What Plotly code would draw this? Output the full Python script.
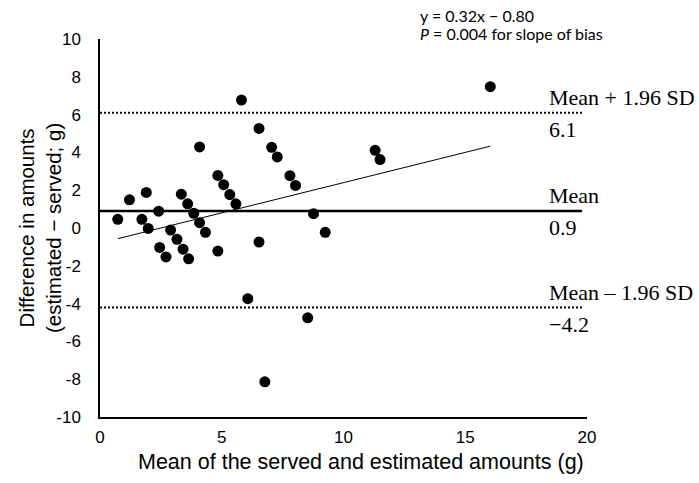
import plotly.graph_objects as go

# Data
mean_amount = [0.73, 1.21, 1.90, 1.72, 1.98, 2.41, 2.45, 2.71, 2.90, 3.16, 3.41, 3.64,
               3.34, 3.60, 3.85, 4.09, 4.33, 4.09, 4.84, 5.08, 5.33, 5.58, 4.84, 6.53,
               5.81, 6.53, 7.05, 7.28, 7.80, 8.03, 8.77, 9.25, 6.07, 8.53, 11.30, 11.50,
               6.77, 16.03]
difference = [0.46, 1.49, 1.88, 0.46, -0.02, 0.89, -1.03, -1.53, -0.11, -0.60, -1.12, -1.63,
              1.79, 1.28, 0.78, 0.28, -0.23, 4.29, 2.78, 2.29, 1.77, 1.28, -1.22, -0.74,
              6.77, 5.27, 4.27, 3.76, 2.77, 2.25, 0.76, -0.23, -3.74, -4.75, 4.11, 3.62,
              -8.14, 7.48]

mean_bias = 0.9
upper_loa = 6.1
lower_loa = -4.2
slope = 0.32
intercept = -0.80
p_value = "0.004"

x_ticks = [0, 5, 10, 15, 20]
y_ticks = [10, 8, 6, 4, 2, 0, -2, -4, -6, -8, -10]
y_tick_text = ["10", "8", "6", "4", "2", "0", "-2", "-4", "-6", "-8", "-10"]

line_x = [0, 19.8]
fit_x = [min(mean_amount), max(mean_amount)]
fit_y = [slope * v + intercept for v in fit_x]

fig = go.Figure()
fig.add_trace(go.Scatter(x=line_x, y=[upper_loa] * 2, mode="lines",
                         line=dict(color="black", width=2, dash="2px,2px"), hoverinfo="skip"))
fig.add_trace(go.Scatter(x=line_x, y=[lower_loa] * 2, mode="lines",
                         line=dict(color="black", width=2, dash="2px,2px"), hoverinfo="skip"))
fig.add_trace(go.Scatter(x=line_x, y=[mean_bias] * 2, mode="lines",
                         line=dict(color="black", width=2.5), hoverinfo="skip"))
fig.add_trace(go.Scatter(x=fit_x, y=fit_y, mode="lines",
                         line=dict(color="black", width=1), hoverinfo="skip"))
fig.add_trace(go.Scatter(x=mean_amount, y=difference, mode="markers",
                         marker=dict(color="black", size=11)))

tfont = dict(family="Liberation Serif, Times New Roman, serif", size=22, color="black")
ann = []
lab_x = 18.35
for label, val, vtext in [("Mean + 1.96 SD", upper_loa, f"{upper_loa:.1f}"),
                          ("Mean", mean_bias, f"{mean_bias:.1f}"),
                          ("Mean \u2013 1.96 SD", lower_loa, f"\u2212{abs(lower_loa):.1f}")]:
    ann.append(dict(x=lab_x, y=val, xref="x", yref="y", text=label, showarrow=False,
                    xanchor="left", yanchor="middle", yshift=15, font=tfont))
    ann.append(dict(x=lab_x, y=val, xref="x", yref="y", text=vtext, showarrow=False,
                    xanchor="left", yanchor="middle", yshift=-17, font=tfont))

cfont = dict(family="Lato, Carlito, Calibri, sans-serif", size=16, color="black")
ann.append(dict(x=(418 - 100) / 487, y=(417 - 15) / 378, xref="paper", yref="paper",
                text=f"y = {slope:.2f}x \u2212 {abs(intercept):.2f}", showarrow=False,
                xanchor="left", yanchor="middle", font=cfont))
ann.append(dict(x=(418 - 100) / 487, y=(417 - 34) / 378, xref="paper", yref="paper",
                text=f"<i>P</i> = {p_value} for slope of bias", showarrow=False,
                xanchor="left", yanchor="middle", font=cfont))

afont = dict(family="Liberation Sans, Arial, sans-serif", size=21.5, color="black")
ann.append(dict(x=(361 - 100) / 487, y=(417 - 462) / 378, xref="paper", yref="paper",
                text="Mean of the served and estimated amounts (g)", showarrow=False,
                xanchor="center", yanchor="middle", font=afont))
ann.append(dict(x=(40 - 100) / 487, y=0.5, xref="paper", yref="paper",
                text="Difference in amounts<br>(estimated \u2212 served; g)", showarrow=False,
                xanchor="center", yanchor="middle", textangle=-90,
                font=dict(family="Liberation Sans, Arial, sans-serif", size=20.5, color="black")))

fig.update_layout(
    width=699, height=483,
    margin=dict(l=100, r=112, t=39, b=66),
    plot_bgcolor="white", paper_bgcolor="white",
    showlegend=False,
    annotations=ann,
    font=dict(family="Liberation Sans, Arial, sans-serif", size=17, color="black"),
)
fig.update_xaxes(range=[0, 20], tickvals=x_ticks, showgrid=False, zeroline=False,
                 showline=True, linecolor="black", linewidth=1.5, ticks="",
                 ticklabelstandoff=4, tickfont=dict(size=17))
fig.update_yaxes(range=[-10, 10], tickvals=y_ticks, ticktext=y_tick_text, showgrid=False,
                 zeroline=False, showline=True, linecolor="black", linewidth=1.5, ticks="",
                 ticklabelstandoff=14, tickfont=dict(size=17))

fig.write_html("out.html")
